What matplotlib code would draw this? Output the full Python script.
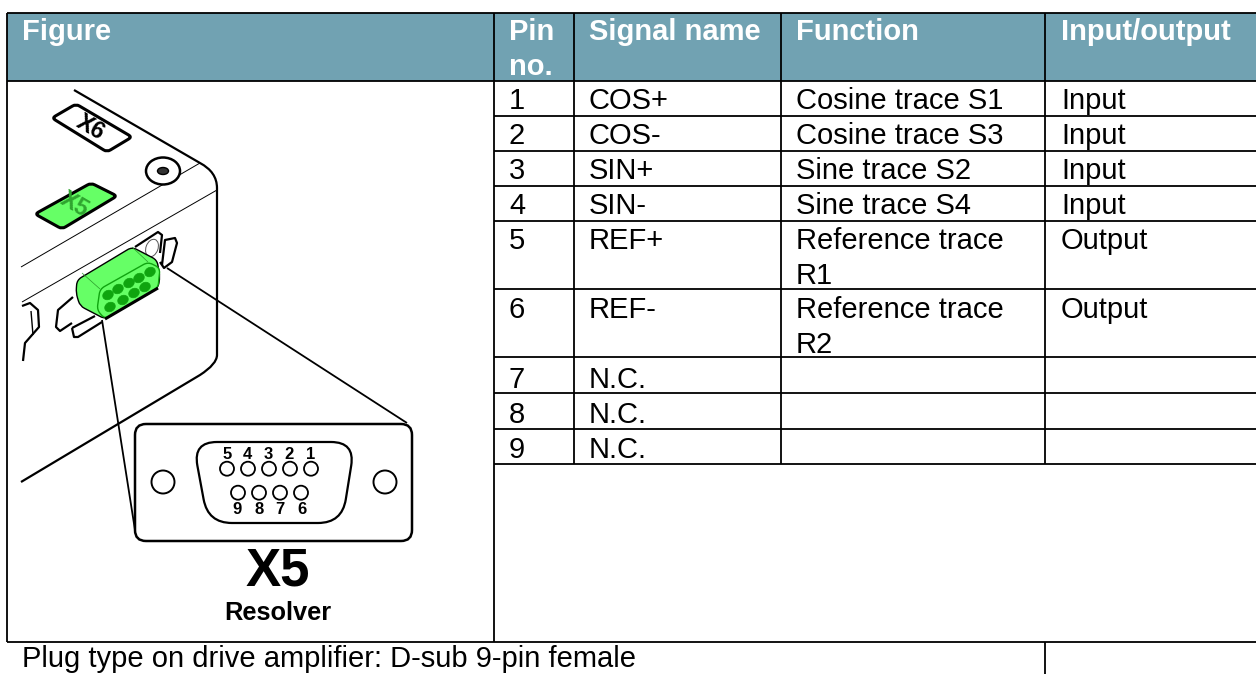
import matplotlib
matplotlib.use("Agg")
import matplotlib.pyplot as plt
from matplotlib.patches import Ellipse, PathPatch, Rectangle
from matplotlib.path import Path
import numpy as np

plt.rcParams["font.family"] = ["Liberation Sans", "DejaVu Sans"]

headers = ["Figure", "Pin\nno.", "Signal name", "Function", "Input/output"]
pins = ["1", "2", "3", "4", "5", "6", "7", "8", "9"]
signals = ["COS+", "COS-", "SIN+", "SIN-", "REF+", "REF-", "N.C.", "N.C.", "N.C."]
functions = ["Cosine trace S1", "Cosine trace S3", "Sine trace S2", "Sine trace S4",
             "Reference trace\nR1", "Reference trace\nR2", "", "", ""]
directions = ["Input", "Input", "Input", "Input", "Output", "Output", "", "", ""]
footer = "Plug type on drive amplifier: D-sub 9-pin female"

top_pins = ["5", "4", "3", "2", "1"]
bottom_pins = ["9", "8", "7", "6"]

# layout, in pixels of the 1256x674 picture
col_x = [7, 494, 574, 781, 1045]
text_x = [22, 509, 589, 796, 1061]
row_y = [81, 116, 151, 186, 221, 289, 357, 393, 429, 464]
baselines = [109, 144, 179, 214, 249, 318, 388, 423, 458]
W, H = 1256, 674
HEAD = "#71a2b2"
GREEN = "#66ff66"
DARK = "#0fa40f"
FS = 21

fig = plt.figure(figsize=(12.56, 6.74), dpi=100)
ax = fig.add_axes([0, 0, 1, 1])
ax.set_xlim(0, W)
ax.set_ylim(H, 0)
ax.axis("off")


def rounded(points, r, **kw):
    # closed polygon with rounded corners
    pts = np.array(points, float)
    n = len(pts)
    verts, codes = [], []
    for i in range(n):
        p, a, b = pts[i], pts[i - 1], pts[(i + 1) % n]
        s = p + (a - p) / np.linalg.norm(a - p) * min(r, np.linalg.norm(a - p) / 2)
        e = p + (b - p) / np.linalg.norm(b - p) * min(r, np.linalg.norm(b - p) / 2)
        verts.append(s)
        codes.append(Path.MOVETO if i == 0 else Path.LINETO)
        verts += [p, e]
        codes += [Path.CURVE3, Path.CURVE3]
    verts.append(verts[0])
    codes.append(Path.CLOSEPOLY)
    patch = PathPatch(Path(verts, codes), **kw)
    ax.add_patch(patch)
    return patch


def line(xs, ys, lw=1.3, color="black", z=3):
    ax.plot(xs, ys, color=color, lw=lw, solid_capstyle="butt", solid_joinstyle="round", zorder=z)


# header band and table grid
ax.add_patch(Rectangle((col_x[0], 13), W - col_x[0], 68, fc=HEAD, ec="none", zorder=1))
line([col_x[0], W], [13, 13])
line([col_x[0], W], [81, 81])
line([col_x[0], W], [642, 642])
line([col_x[0], col_x[0]], [13, 642])
line([col_x[1], col_x[1]], [13, 642])
for x in col_x[2:]:
    line([x, x], [13, 464])
for y in row_y[1:]:
    line([col_x[1], W], [y, y])
line([col_x[4], col_x[4]], [642, H])

for x, label in zip(text_x, headers):
    for j, part in enumerate(label.split("\n")):
        ax.text(x, 40 + j * 35, part, color="white", fontsize=FS, fontweight="bold",
                va="baseline", zorder=4)

for i, y in enumerate(baselines):
    ax.text(text_x[1], y, pins[i], fontsize=FS, va="baseline")
    ax.text(text_x[2], y, signals[i], fontsize=FS, va="baseline")
    for j, part in enumerate(functions[i].split("\n")):
        ax.text(text_x[3], y + j * 35, part, fontsize=FS, va="baseline")
    ax.text(text_x[4], y, directions[i], fontsize=FS, va="baseline")
ax.text(text_x[0], 667, footer, fontsize=FS, va="baseline")

# device body, cut off on the left
verts = [(74, 90), (200, 163), (217, 172), (217, 188), (217, 355), (217, 364), (200, 375), (21, 482)]
codes = [Path.MOVETO, Path.LINETO, Path.CURVE3, Path.CURVE3, Path.LINETO, Path.CURVE3, Path.CURVE3, Path.LINETO]
ax.add_patch(PathPatch(Path(verts, codes), fc="none", ec="black", lw=1.6, zorder=3))
line([200, 21], [163, 267], lw=0.7)
line([217, 22], [190, 302], lw=0.7)

# labels on top of the device
rounded([(52, 118), (76, 104), (132, 137), (107, 152)], 4, fc="white", ec="black", lw=2.2, zorder=3)
ax.text(91, 128, "X6", fontsize=17, fontweight="bold", rotation=-30, ha="center", va="center",
        rotation_mode="anchor", zorder=4)
rounded([(35, 214), (91, 183), (117, 196), (62, 229)], 4, fc=GREEN, ec="black", lw=2.2, zorder=3)
ax.text(75, 205, "X5", fontsize=17, fontweight="bold", color="#2fa52f", rotation=-30, ha="center",
        va="center", rotation_mode="anchor", zorder=4)
ax.add_patch(Ellipse((163, 171), 34, 27, fc="white", ec="black", lw=1.8, zorder=3))
ax.add_patch(Ellipse((163, 171), 11, 7, fc="#333333", ec="black", lw=1, zorder=4))

# flanges
line([135, 158, 162, 160], [247, 232, 235, 253], lw=1.6)
line([162, 165, 175, 177, 172, 164, 160], [265, 240, 238, 243, 262, 268, 262], lw=1.6)
ax.add_patch(Ellipse((152, 248), 12, 18, angle=20, fc="none", ec="#555555", lw=0.7, zorder=3))
line([73, 58, 56, 60, 72], [297, 310, 327, 331, 323], lw=1.6)
line([72, 74, 78, 102], [328, 337, 337, 322], lw=1.6)
line([72, 95], [328, 316], lw=1.6)
line([22, 30, 38, 39, 25, 23], [306, 303, 310, 327, 343, 361], lw=1.6)
line([31, 33], [311, 335], lw=1)

# green connector
rounded([(77, 280), (132, 247), (157, 260), (160, 277), (158, 288), (105, 319), (80, 306), (76, 293)], 5,
        fc=GREEN, ec="black", lw=1.0, zorder=5)
rounded([(100, 289), (148, 262), (160, 268), (158, 288), (105, 319), (97, 310)], 5,
        fc=GREEN, ec=DARK, lw=1.0, zorder=6)
line([82, 100], [273, 289], lw=0.5, color="#2a9a2a", z=6)
line([132, 148], [247, 262], lw=0.5, color="#2a9a2a", z=6)
line([105, 158], [319, 288], lw=2.2, z=7)
for px, py in zip([108, 118, 129, 139, 150], [295, 289, 283, 278, 272]):
    ax.add_patch(Ellipse((px, py), 11, 9, angle=-30, fc=DARK, ec=DARK, lw=0.5, zorder=7))
for px, py in zip([110, 123, 134, 145], [307, 300, 293, 287]):
    ax.add_patch(Ellipse((px, py), 11, 9, angle=-30, fc=DARK, ec=DARK, lw=0.5, zorder=7))

# leader lines
line([102, 135], [320, 530], lw=1.3)
line([167, 407], [268, 423], lw=1.3)

# D-sub face
rounded([(135, 424), (412, 424), (412, 541), (135, 541)], 11, fc="white", ec="black", lw=1.8, zorder=8)
rounded([(193, 442), (355, 442), (342, 523), (208, 523)], 24, fc="white", ec="black", lw=1.6, zorder=9)
for hx in [163, 385]:
    ax.add_patch(Ellipse((hx, 482), 23, 23, fc="white", ec="black", lw=1.4, zorder=9))
for px, num, nx in zip([227, 248, 269, 290, 311], top_pins, [227, 247, 268, 289, 311]):
    ax.add_patch(Ellipse((px, 468.7), 14, 14, fc="white", ec="black", lw=1.3, zorder=9))
    ax.text(nx, 459, num, fontsize=12, fontweight="bold", ha="center", va="baseline", zorder=10)
for px, num, nx in zip([238, 259, 280, 301], bottom_pins, [237, 259, 280, 302]):
    ax.add_patch(Ellipse((px, 492.7), 14, 14, fc="white", ec="black", lw=1.3, zorder=9))
    ax.text(nx, 514, num, fontsize=12, fontweight="bold", ha="center", va="baseline", zorder=10)
ax.text(278, 586, "X5", fontsize=38, fontweight="bold", ha="center", va="baseline", zorder=4)
ax.text(278, 620, "Resolver", fontsize=18.3, fontweight="bold", ha="center", va="baseline", zorder=4)

fig.savefig("out.png", dpi=100)
